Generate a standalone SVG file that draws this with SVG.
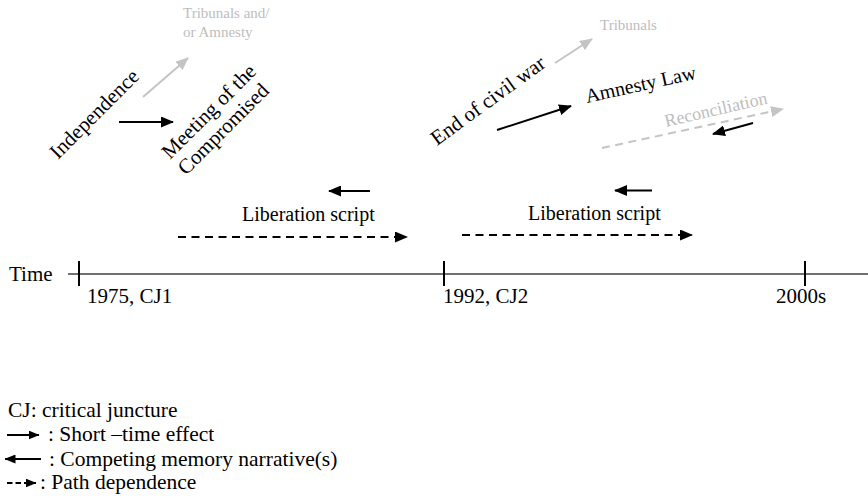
<svg xmlns="http://www.w3.org/2000/svg" width="868" height="498" viewBox="0 0 868 498">
<style>
text{font-family:"Liberation Serif",Tinos,"Times New Roman","DejaVu Serif",serif;fill:#000}
.g{fill:#bdbdbd}
.sm{font-size:15px}
.lbl{font-size:20px}
.rot{font-size:21px}
.tl{font-size:21px}
.lg{font-size:21.5px}
.arr{stroke:#000;stroke-width:2;fill:none}
.garr{stroke:#c4c4c4;stroke-width:2;fill:none}
.dash{stroke-dasharray:8 5.5}
.tick{stroke:#000;stroke-width:2}
</style>
<defs>
<marker id="hb" markerUnits="userSpaceOnUse" markerWidth="13" markerHeight="11" viewBox="0 0 13 11" refX="12" refY="5.5" orient="auto"><path d="M0,0 L13,5.5 L0,11 z" fill="#000"/></marker>
<marker id="hg" markerUnits="userSpaceOnUse" markerWidth="13" markerHeight="11" viewBox="0 0 13 11" refX="12" refY="5.5" orient="auto"><path d="M0,0 L13,5.5 L0,11 z" fill="#c4c4c4"/></marker>
<marker id="hs" markerUnits="userSpaceOnUse" markerWidth="11" markerHeight="9" viewBox="0 0 11 9" refX="10.5" refY="4.5" orient="auto"><path d="M0,0 L11,4.5 L0,9 z" fill="#000"/></marker>
</defs>

<g id="timeline">
<line x1="68" y1="274" x2="868" y2="274" stroke="#404040" stroke-width="1.5"/>
<line class="tick" x1="79" y1="261" x2="79" y2="286"/>
<line class="tick" x1="444" y1="261" x2="444" y2="286"/>
<line class="tick" x1="805" y1="261" x2="805" y2="286"/>
<text class="tl" x="9" y="281">Time</text>
<text class="tl" x="87" y="303">1975, CJ1</text>
<text class="tl" x="443" y="303">1992, CJ2</text>
<text class="tl" x="776" y="303">2000s</text>
</g>

<g id="tribunals-amnesty"><text class="g sm" x="183" y="18">Tribunals and/</text><text class="g sm" x="183" y="37">or Amnesty</text></g>
<g id="independence"><text class="rot" transform="translate(58,160) rotate(-45)">Independence</text></g>
<g id="meeting"><text class="rot" transform="translate(170,160) rotate(-45)">Meeting of the</text><text class="rot" transform="translate(186,176) rotate(-45)">Compromised</text></g>
<g id="liberation1"><text class="lbl" x="242" y="221">Liberation script</text></g>
<g id="tribunals"><text class="g sm" x="600" y="30">Tribunals</text></g>
<g id="end-civil-war"><text class="rot" transform="translate(437,146) rotate(-36)">End of civil war</text></g>
<g id="amnesty-law"><text class="lbl" transform="translate(587,103) rotate(-12.5)">Amnesty Law</text></g>
<g id="reconciliation"><text class="g" font-size="18" transform="translate(666,127) rotate(-13)">Reconciliation</text></g>
<g id="liberation2"><text class="lbl" x="528" y="220">Liberation script</text></g>

<g id="connectors">
<line class="garr" x1="143" y1="97" x2="188" y2="58" marker-end="url(#hg)"/>
<line class="arr" x1="119" y1="122" x2="173" y2="122" marker-end="url(#hb)"/>
<line class="arr" x1="370" y1="191" x2="329" y2="191" marker-end="url(#hb)"/>
<line class="arr dash" x1="178" y1="237" x2="407" y2="237" marker-end="url(#hb)"/>
<line class="garr" x1="555" y1="63" x2="592" y2="39" marker-end="url(#hg)"/>
<line class="arr" x1="497" y1="130" x2="571" y2="106" marker-end="url(#hb)"/>
<line class="garr dash" x1="602" y1="148" x2="783" y2="109" marker-end="url(#hg)"/>
<line class="arr" x1="753" y1="123" x2="713" y2="134" marker-end="url(#hb)"/>
<line class="arr" x1="652" y1="190.5" x2="615" y2="190.5" marker-end="url(#hb)"/>
<line class="arr dash" x1="462" y1="235" x2="692" y2="235" marker-end="url(#hb)"/>
</g>

<g id="legend">
<text class="lg" x="8" y="417">CJ: critical juncture</text>
<line class="arr" x1="7" y1="435" x2="39" y2="435" marker-end="url(#hs)"/>
<text class="lg" x="48" y="441">: Short –time effect</text>
<line class="arr" x1="41" y1="459" x2="5" y2="459" marker-end="url(#hs)"/>
<text class="lg" x="49" y="466">: Competing memory narrative(s)</text>
<line class="arr" x1="7" y1="483" x2="36" y2="483" stroke-dasharray="5.5 3" marker-end="url(#hs)"/>
<text class="lg" x="40" y="489">: Path dependence</text>
</g>
</svg>
